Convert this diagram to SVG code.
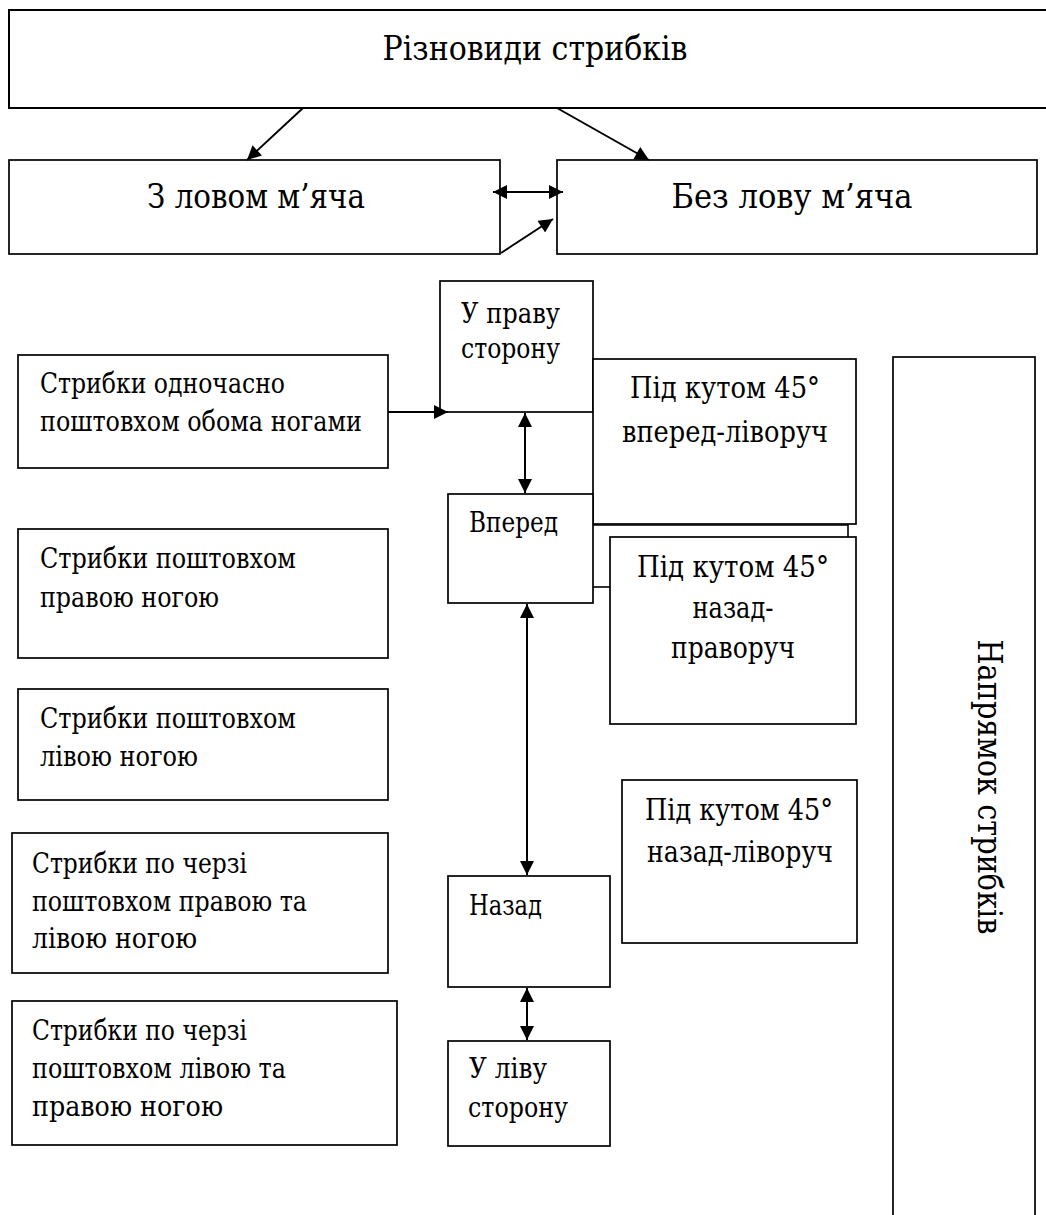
<svg xmlns="http://www.w3.org/2000/svg" width="1046" height="1215" viewBox="0 0 1046 1215">
<style>
  .box { fill: #ffffff; stroke: #000000; stroke-width: 1.7; }
  .t { font-family: 'DejaVu Serif', 'Liberation Serif', serif; fill: #000000; }
  .big { font-size: 34px; }
  .mid { font-size: 29px; }
  .sm { font-size: 27px; }
  .c { text-anchor: middle; }
  .conn { fill: none; stroke: #000000; stroke-width: 2; }
  .thin { fill: none; stroke: #000000; stroke-width: 1.6; }
</style>
<defs>
  <marker id="ah" viewBox="0 0 10 10" refX="10" refY="5" markerUnits="userSpaceOnUse" markerWidth="16" markerHeight="14" orient="auto-start-reverse">
    <path d="M0,0 L10,5 L0,10 z" fill="#000000"/>
  </marker>
</defs>
<rect width="1046" height="1215" fill="#ffffff"/>

<g id="n-root">
  <rect class="box" x="9" y="10" width="1045" height="98" style="stroke-width:2"/>
  <text class="t big c" x="535" y="60" textLength="305" lengthAdjust="spacingAndGlyphs">Різновиди стрибків</text>
</g>
<g id="n-catch">
  <rect class="box" x="9" y="160" width="491" height="94"/>
  <text class="t big c" x="256" y="208" textLength="218" lengthAdjust="spacingAndGlyphs">З ловом м’яча</text>
</g>
<g id="n-nocatch">
  <rect class="box" x="557" y="160" width="480" height="94"/>
  <text class="t big c" x="792" y="208" textLength="241" lengthAdjust="spacingAndGlyphs">Без лову м’яча</text>
</g>

<g id="n-right">
  <rect class="box" x="440" y="281" width="153" height="131"/>
  <text class="t sm" x="461" y="323" textLength="99" lengthAdjust="spacingAndGlyphs">У праву</text>
  <text class="t sm" x="461" y="358" textLength="99" lengthAdjust="spacingAndGlyphs">сторону</text>
</g>
<g id="n-fwd-left">
  <rect class="box" x="593" y="359" width="263" height="165"/>
  <text class="t mid c" x="725" y="398" textLength="190" lengthAdjust="spacingAndGlyphs">Під кутом 45°</text>
  <text class="t mid c" x="725" y="442" textLength="206" lengthAdjust="spacingAndGlyphs">вперед-ліворуч</text>
</g>
<g id="n-forward">
  <rect class="box" x="448" y="494" width="145" height="109"/>
  <text class="t sm" x="469" y="532" textLength="89" lengthAdjust="spacingAndGlyphs">Вперед</text>
</g>
<g id="n-back-right">
  <rect class="box" x="610" y="537" width="246" height="187"/>
  <text class="t mid c" x="733" y="577" textLength="192" lengthAdjust="spacingAndGlyphs">Під кутом 45°</text>
  <text class="t mid c" x="733" y="618" textLength="81" lengthAdjust="spacingAndGlyphs">назад-</text>
  <text class="t mid c" x="733" y="658" textLength="124" lengthAdjust="spacingAndGlyphs">праворуч</text>
</g>
<g id="n-back-left">
  <rect class="box" x="622" y="780" width="235" height="163"/>
  <text class="t mid c" x="739" y="820" textLength="188" lengthAdjust="spacingAndGlyphs">Під кутом 45°</text>
  <text class="t mid c" x="740" y="862" textLength="186" lengthAdjust="spacingAndGlyphs">назад-ліворуч</text>
</g>
<g id="n-back">
  <rect class="box" x="448" y="876" width="162" height="111"/>
  <text class="t sm" x="469" y="915" textLength="73" lengthAdjust="spacingAndGlyphs">Назад</text>
</g>
<g id="n-left">
  <rect class="box" x="448" y="1041" width="162" height="105"/>
  <text class="t sm" x="469" y="1078" textLength="78" lengthAdjust="spacingAndGlyphs">У ліву</text>
  <text class="t sm" x="468" y="1117" textLength="100" lengthAdjust="spacingAndGlyphs">сторону</text>
</g>

<g id="n-direction">
  <rect class="box" x="893" y="357" width="142" height="870"/>
  <text class="t big c" transform="translate(978,787) rotate(90)" textLength="295" lengthAdjust="spacingAndGlyphs">Напрямок стрибків</text>
</g>

<g id="n-both">
  <rect class="box" x="18" y="355" width="370" height="113"/>
  <text class="t sm" x="40" y="393" textLength="245" lengthAdjust="spacingAndGlyphs">Стрибки одночасно</text>
  <text class="t sm" x="40" y="431" textLength="322" lengthAdjust="spacingAndGlyphs">поштовхом обома ногами</text>
</g>
<g id="n-rightleg">
  <rect class="box" x="18" y="529" width="370" height="129"/>
  <text class="t sm" x="40" y="568" textLength="256" lengthAdjust="spacingAndGlyphs">Стрибки поштовхом</text>
  <text class="t sm" x="40" y="607" textLength="179" lengthAdjust="spacingAndGlyphs">правою ногою</text>
</g>
<g id="n-leftleg">
  <rect class="box" x="18" y="689" width="370" height="111"/>
  <text class="t sm" x="40" y="728" textLength="256" lengthAdjust="spacingAndGlyphs">Стрибки поштовхом</text>
  <text class="t sm" x="40" y="766" textLength="158" lengthAdjust="spacingAndGlyphs">лівою ногою</text>
</g>
<g id="n-alt-rl">
  <rect class="box" x="12" y="833" width="376" height="140"/>
  <text class="t sm" x="32" y="873" textLength="215" lengthAdjust="spacingAndGlyphs">Стрибки по черзі</text>
  <text class="t sm" x="32" y="911" textLength="275" lengthAdjust="spacingAndGlyphs">поштовхом правою та</text>
  <text class="t sm" x="32" y="948" textLength="165" lengthAdjust="spacingAndGlyphs">лівою ногою</text>
</g>
<g id="n-alt-lr">
  <rect class="box" x="12" y="1001" width="385" height="144"/>
  <text class="t sm" x="32" y="1040" textLength="215" lengthAdjust="spacingAndGlyphs">Стрибки по черзі</text>
  <text class="t sm" x="32" y="1078" textLength="254" lengthAdjust="spacingAndGlyphs">поштовхом лівою та</text>
  <text class="t sm" x="32" y="1116" textLength="191" lengthAdjust="spacingAndGlyphs">правою ногою</text>
</g>

<g id="connectors">
  <line class="conn" x1="303" y1="108" x2="247" y2="160" marker-end="url(#ah)"/>
  <line class="conn" x1="557" y1="108" x2="649" y2="160" marker-end="url(#ah)"/>
  <line class="conn" x1="493" y1="192" x2="563" y2="192" marker-start="url(#ah)" marker-end="url(#ah)"/>
  <line class="conn" x1="501" y1="253" x2="553" y2="219" marker-end="url(#ah)"/>
  <line class="conn" x1="388" y1="412" x2="448" y2="412" marker-end="url(#ah)"/>
  <line class="conn" x1="525" y1="413" x2="525" y2="493" marker-start="url(#ah)" marker-end="url(#ah)"/>
  <line class="conn" x1="527" y1="604" x2="527" y2="875" marker-start="url(#ah)" marker-end="url(#ah)"/>
  <line class="conn" x1="527" y1="988" x2="527" y2="1040" marker-start="url(#ah)" marker-end="url(#ah)"/>
  <polyline class="thin" points="593,525 848,525 848,537"/>
  <line class="thin" x1="593" y1="587" x2="610" y2="587"/>
</g>
</svg>
